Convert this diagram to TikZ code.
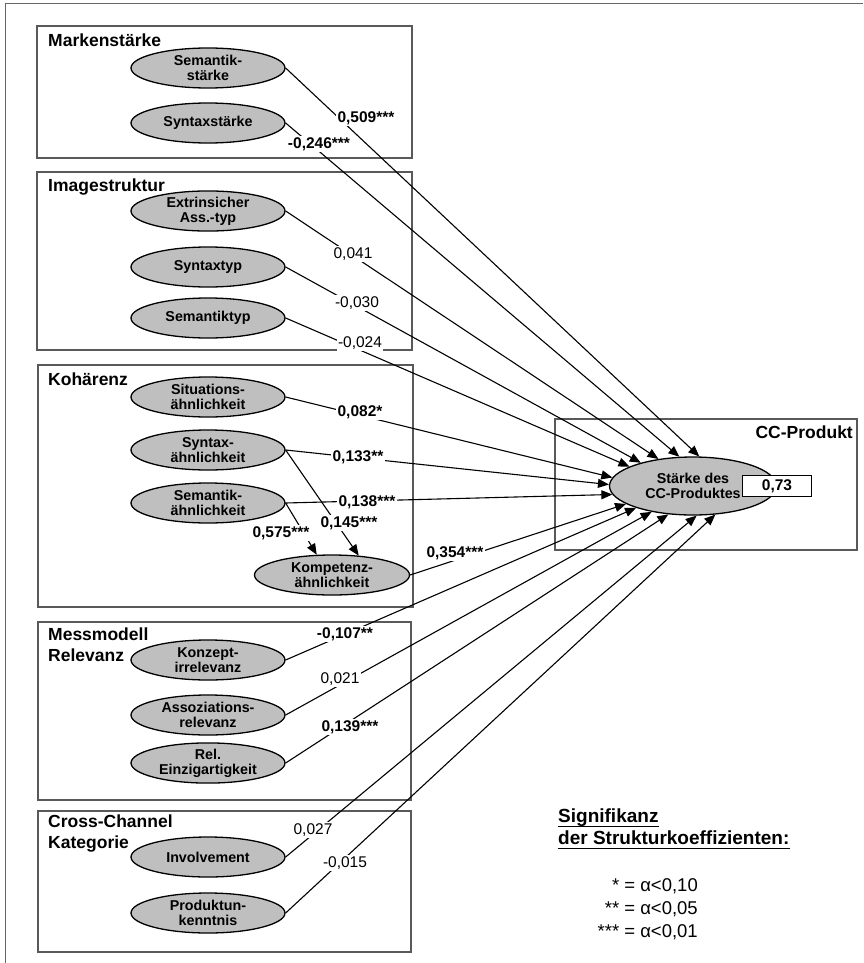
\documentclass[tikz,border=0pt]{standalone}
\usepackage{fontspec}
\setmainfont{Liberation Sans}
\usetikzlibrary{shapes.geometric,arrows.meta}
\begin{document}
\begin{tikzpicture}[x=1pt,y=-1pt,
  grp/.style={draw=black!65,line width=1.2pt},
  lat/.style={ellipse,draw=black,line width=1.3pt,fill=black!25,minimum width=154pt,minimum height=40pt,inner sep=0pt,align=center,font=\fontsize{14.3}{15}\selectfont\bfseries},
  coef/.style={fill=white,inner sep=1.5pt,font=\fontsize{15.5}{16}\selectfont},
  sig/.style={coef,font=\fontsize{15.5}{16}\selectfont\bfseries},
  arr/.style={-{Triangle[length=11pt,width=9pt]},line width=1.1pt},
  ttl/.style={anchor=base west,inner sep=0pt,font=\fontsize{17.5}{21}\selectfont\bfseries},
  leg/.style={anchor=base west,inner sep=0pt,font=\fontsize{19}{23}\selectfont\bfseries},
  legl/.style={anchor=base east,inner sep=0pt,font=\fontsize{18.5}{23}\selectfont}
]
\useasboundingbox (0,0) rectangle (863,963);
% outer frame
\draw[draw=black!60,line width=1pt] (5,963) -- (5,4) -- (863,4);
% group boxes
\draw[grp] (37,26) rectangle (412,158);
\draw[grp] (37,172) rectangle (412,350);
\draw[grp] (38,365) rectangle (413,607);
\draw[grp] (38,622) rectangle (411,800);
\draw[grp] (38,811) rectangle (411,952);
\draw[grp] (555,419) rectangle (857,550);
% titles
\node[ttl] (tm) at (48,47) {Markenstärke};
\node[ttl] (ti) at (48,191) {Imagestruktur};
\node[ttl] (tk) at (48,385) {Kohärenz};
\node[ttl] (tr1) at (48,640) {Messmodell};
\node[ttl] (tr2) at (48,661) {Relevanz};
\node[ttl] (tc1) at (48,827) {Cross-Channel};
\node[ttl] (tc2) at (48,848) {Kategorie};
\node[ttl,anchor=base east] (tp) at (853,438) {CC-Produkt};
% latent variables
\node[lat] (m1) at (208,68) {Semantik-\\stärke};
\node[lat] (m2) at (208,123) {Syntaxstärke};
\node[lat] (i1) at (208,211) {Extrinsicher\\Ass.-typ};
\node[lat] (i2) at (208,267) {Syntaxtyp};
\node[lat] (i3) at (208,318) {Semantiktyp};
\node[lat] (k1) at (208,397) {Situations-\\ähnlichkeit};
\node[lat] (k2) at (208,450) {Syntax-\\ähnlichkeit};
\node[lat] (k3) at (208,503) {Semantik-\\ähnlichkeit};
\node[lat,minimum width=155pt] (k4) at (332,575) {Kompetenz-\\ähnlichkeit};
\node[lat] (r1) at (208,660) {Konzept-\\irrelevanz};
\node[lat] (r2) at (208,715) {Assoziations-\\relevanz};
\node[lat] (r3) at (208,763) {Rel.\\Einzigartigkeit};
\node[lat] (c1) at (208,857) {Involvement};
\node[lat] (c2) at (208,913) {Produktun-\\kenntnis};
\node[lat,minimum width=167pt,minimum height=58pt] (t) at (693,486) {Stärke des\\CC-Produktes};
% paths
\draw[arr] (m1.east) -- (t.78);
\draw[arr] (m2.east) -- (t.115);
\draw[arr] (i1.east) -- (t.142);
\draw[arr] (i2.east) -- (t.156);
\draw[arr] (i3.east) -- (t.163);
\draw[arr] (k1.east) -- (t.174);
\draw[arr] (k2.east) -- (t.179);
\draw[arr] (k3.east) -- (t.186);
\draw[arr] (k4.east) -- (t.195);
\draw[arr] (r1.east) -- (t.201);
\draw[arr] (r2.east) -- (t.212);
\draw[arr] (r3.east) -- (t.229);
\draw[arr] (c1.east) -- (t.277);
\draw[arr] (c2.east) -- (t.308);
\draw[arr] (k3.east) -- (k4.127);
\draw[arr] (k2.east) -- (k4.36);
% coefficients
\node[sig] (l1) at (366,118) {0,509***};
\node[sig] (l2) at (319,144) {-0,246***};
\node[coef] (l3) at (353,254) {0,041};
\node[coef] (l4) at (357,303) {-0,030};
\node[coef] (l5) at (360,343) {-0,024};
\node[sig] (l6) at (360,412) {0,082*};
\node[sig] (l7) at (358,457) {0,133**};
\node[sig] (l8) at (367,502) {0,138***};
\node[sig] (l9) at (281,533) {0,575***};
\node[sig] (l10) at (349,523) {0,145***};
\node[sig] (l11) at (455,553) {0,354***};
\node[sig] (l12) at (345,634) {-0,107**};
\node[coef] (l13) at (340,679) {0,021};
\node[sig] (l14) at (350,727) {0,139***};
\node[coef] (l15) at (313,830) {0,027};
\node[coef] (l16) at (345,863) {-0,015};
% R2
\node[draw=black,line width=1pt,fill=white,minimum width=69pt,minimum height=21pt,inner sep=0pt,font=\fontsize{15.5}{16}\selectfont\bfseries] (rsq) at (777,486) {0,73};
% legend
\node[leg] (s1) at (558,822) {Signifikanz};
\node[leg] (s2) at (558,844) {der Strukturkoeffizienten:};
\draw[line width=1.3pt] ([yshift=-4.5pt]s1.base west) -- ([yshift=-4.5pt]s1.base east);
\draw[line width=1.3pt] ([yshift=-4.5pt]s2.base west) -- ([yshift=-4.5pt]s2.base east);
\node[legl] (g1) at (698,891) {* = α<0,10};
\node[legl] (g2) at (698,914) {** = α<0,05};
\node[legl] (g3) at (698,937) {*** = α<0,01};
\end{tikzpicture}
\end{document}
